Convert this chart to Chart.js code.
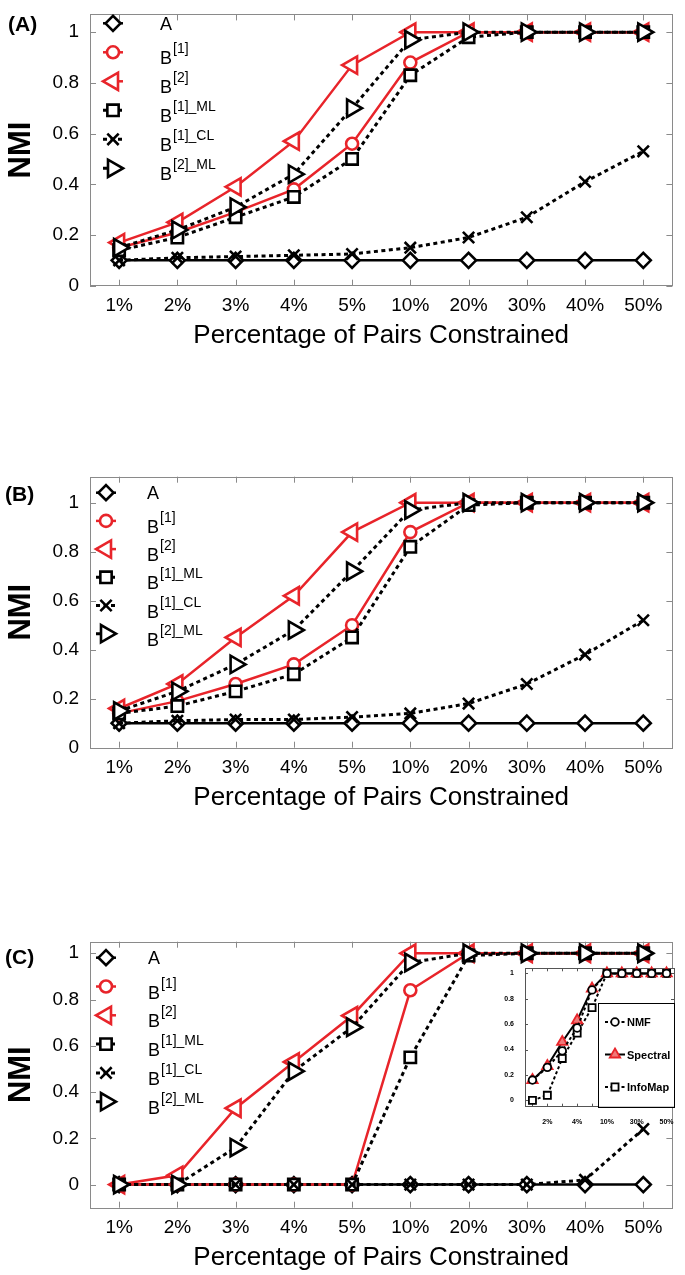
<!DOCTYPE html>
<html>
<head>
<meta charset="utf-8">
<script src="https://cdn.jsdelivr.net/npm/chart.js@4.4.1/dist/chart.umd.min.js"></script>
<style>
  html, body { margin: 0; padding: 0; background: #fff; overflow: hidden; }
  body { width: 685px; height: 1275px; position: relative; }
  canvas { position: absolute; }
</style>
</head>
<body>
<canvas id="panelA" width="685" height="352" style="left:0;top:0"></canvas>
<canvas id="panelB" width="685" height="352" style="left:0;top:462px"></canvas>
<canvas id="panelC" width="685" height="352" style="left:0;top:922px"></canvas>
<canvas id="insetC" width="190" height="175" style="left:495px;top:955px"></canvas>
<script>
// shared axes
const categories = ['1%', '2%', '3%', '4%', '5%', '10%', '20%', '30%', '40%', '50%'];
const yTicks = [0, 0.2, 0.4, 0.6, 0.8, 1];
const seriesNames = ['A', 'B[1]', 'B[2]', 'B[1]_ML', 'B[1]_CL', 'B[2]_ML'];

// panel (A)
const a_A     = [0.10, 0.10, 0.10, 0.10, 0.10, 0.10, 0.10, 0.10, 0.10, 0.10];
const a_B1    = [0.15, 0.21, 0.29, 0.38, 0.56, 0.88, 1.00, 1.00, 1.00, 1.00];
const a_B2    = [0.17, 0.25, 0.39, 0.57, 0.87, 1.00, 1.00, 1.00, 1.00, 1.00];
const a_B1ML  = [0.14, 0.19, 0.27, 0.35, 0.50, 0.83, 0.98, 1.00, 1.00, 1.00];
const a_B1CL  = [0.10, 0.11, 0.115, 0.12, 0.125, 0.15, 0.19, 0.27, 0.41, 0.53];
const a_B2ML  = [0.15, 0.22, 0.31, 0.44, 0.70, 0.97, 1.00, 1.00, 1.00, 1.00];

// panel (B)
const b_A     = [0.10, 0.10, 0.10, 0.10, 0.10, 0.10, 0.10, 0.10, 0.10, 0.10];
const b_B1    = [0.14, 0.19, 0.26, 0.34, 0.50, 0.88, 1.00, 1.00, 1.00, 1.00];
const b_B2    = [0.16, 0.26, 0.45, 0.62, 0.88, 1.00, 1.00, 1.00, 1.00, 1.00];
const b_B1ML  = [0.14, 0.17, 0.23, 0.30, 0.45, 0.82, 0.99, 1.00, 1.00, 1.00];
const b_B1CL  = [0.10, 0.11, 0.115, 0.115, 0.125, 0.14, 0.18, 0.26, 0.38, 0.52];
const b_B2ML  = [0.15, 0.23, 0.34, 0.48, 0.72, 0.97, 1.00, 1.00, 1.00, 1.00];

// panel (C)
const c_A     = [0, 0, 0, 0, 0, 0, 0, 0, 0, 0];
const c_B1    = [0, 0, 0, 0, 0, 0.84, 1.00, 1.00, 1.00, 1.00];
const c_B2    = [0, 0.04, 0.33, 0.53, 0.73, 1.00, 1.00, 1.00, 1.00, 1.00];
const c_B1ML  = [0, 0, 0, 0, 0, 0.55, 0.99, 1.00, 1.00, 1.00];
const c_B1CL  = [0, 0, 0, 0, 0, 0, 0, 0, 0.02, 0.24];
const c_B2ML  = [0, 0, 0.16, 0.49, 0.68, 0.96, 1.00, 1.00, 1.00, 1.00];

// inset of panel (C)
const insetNames    = ['NMF', 'Spectral', 'InfoMap'];
const insetNMF      = [0.16, 0.26, 0.39, 0.57, 0.87, 1.00, 1.00, 1.00, 1.00, 1.00];
const insetSpectral = [0.16, 0.27, 0.46, 0.63, 0.88, 1.00, 1.00, 1.00, 1.00, 1.00];
const insetInfoMap  = [0.00, 0.04, 0.33, 0.53, 0.73, 1.00, 1.00, 1.00, 1.00, 1.00];

const RED = 'rgb(232,36,42)';
const FONT = "'Liberation Sans', Arial, Helvetica, sans-serif";
const DOTS = [4, 3.5];

const seriesStyle = [
  { color: '#000', dash: [],   shape: 'rectRot',  r: 7.5, rot: 0 },
  { color: RED,    dash: [],   shape: 'circle',   r: 6,   rot: 0 },
  { color: RED,    dash: [],   shape: 'triangle', r: 10,  rot: -90 },
  { color: '#000', dash: DOTS, shape: 'rect',     r: 8,   rot: 0 },
  { color: '#000', dash: DOTS, shape: 'crossRot', r: 8,   rot: 0 },
  { color: '#000', dash: DOTS, shape: 'triangle', r: 10,  rot: 90 }
];

function makeSets(values) {
  return values.map((vals, i) => {
    const s = seriesStyle[i];
    return {
      label: seriesNames[i],
      data: vals,
      borderColor: s.color,
      borderWidth: s.dash.length ? 3 : 2.5,
      borderDash: s.dash,
      pointStyle: s.shape,
      pointRotation: s.rot,
      pointRadius: s.r,
      pointHoverRadius: s.r,
      pointBorderColor: s.color,
      pointBackgroundColor: '#fff',
      pointBorderWidth: 2.6,
      tension: 0,
      clip: false,
      order: values.length - 1 - i
    };
  });
}

// matlab style box with inward ticks
const axesBox = {
  id: 'axesBox',
  beforeDraw(chart, args, o) {
    if (!o.fill) return;
    const a = chart.chartArea;
    chart.ctx.save();
    chart.ctx.fillStyle = '#fff';
    chart.ctx.fillRect(a.left, a.top, a.width, a.height);
    chart.ctx.restore();
  },
  beforeDatasetsDraw(chart, args, o) {
    const { ctx, chartArea: a, scales: { x, y } } = chart;
    ctx.save();
    ctx.strokeStyle = o.color;
    ctx.lineWidth = 1;
    ctx.beginPath();
    for (let i = 0; i < categories.length; i++) {
      const px = Math.round(x.getPixelForValue(i)) + 0.5;
      ctx.moveTo(px, a.bottom); ctx.lineTo(px, a.bottom - o.len);
      ctx.moveTo(px, a.top); ctx.lineTo(px, a.top + o.len);
    }
    yTicks.forEach(v => {
      const py = Math.round(y.getPixelForValue(v)) + 0.5;
      ctx.moveTo(a.left, py); ctx.lineTo(a.left + o.len, py);
      ctx.moveTo(a.right, py); ctx.lineTo(a.right - o.len, py);
    });
    ctx.stroke();
    ctx.strokeRect(Math.round(a.left) + 0.5, Math.round(a.top) + 0.5, Math.round(a.width), Math.round(a.height));
    ctx.restore();
  }
};

function legendMark(ctx, ds, x, y, half) {
  ctx.strokeStyle = ds.borderColor;
  ctx.lineWidth = ds.borderWidth;
  ctx.setLineDash(ds.borderDash || []);
  ctx.beginPath();
  ctx.moveTo(x - half, y);
  ctx.lineTo(x + half, y);
  ctx.stroke();
  ctx.setLineDash([]);
  ctx.fillStyle = ds.pointBackgroundColor;
  ctx.strokeStyle = ds.pointBorderColor;
  ctx.lineWidth = ds.pointBorderWidth;
  Chart.helpers.drawPoint(ctx, {
    pointStyle: ds.pointStyle, rotation: ds.pointRotation || 0,
    radius: ds.pointRadius, borderWidth: ds.pointBorderWidth
  }, x, y);
}

// legend with superscripts, B[1]_ML -> B + raised [1]_ML
const seriesLegend = {
  id: 'seriesLegend',
  afterDraw(chart, args, o) {
    const ctx = chart.ctx;
    chart.data.datasets.forEach((ds, i) => {
      const y = o.y0 + i * o.gap;
      ctx.save();
      legendMark(ctx, ds, o.x, y, 10);
      const base = ds.label.charAt(0);
      const sup = ds.label.slice(1);
      ctx.fillStyle = '#000';
      ctx.textBaseline = 'alphabetic';
      ctx.textAlign = 'left';
      ctx.font = '18px ' + FONT;
      const by = y + (sup ? 12 : 6.5);
      ctx.fillText(base, o.tx, by);
      if (sup) {
        const w = ctx.measureText(base).width;
        ctx.font = '14px ' + FONT;
        ctx.fillText(sup, o.tx + w + 1, by - 11);
      }
      ctx.restore();
    });
  }
};

const panelTag = {
  id: 'panelTag',
  afterDraw(chart, args, o) {
    const ctx = chart.ctx;
    ctx.save();
    ctx.fillStyle = '#000';
    ctx.font = 'bold 21px ' + FONT;
    ctx.textBaseline = 'middle';
    ctx.textAlign = 'left';
    ctx.fillText(o.text, o.x, o.y);
    ctx.restore();
  }
};

const insetLegend = {
  id: 'insetLegend',
  afterDraw(chart, args, o) {
    const { ctx, chartArea: a } = chart;
    const left = a.right - o.w, top = a.bottom - o.h;
    ctx.save();
    ctx.fillStyle = '#fff';
    ctx.fillRect(left, top, o.w, o.h);
    ctx.strokeStyle = '#000';
    ctx.lineWidth = 1;
    ctx.strokeRect(Math.round(left) + 0.5, Math.round(top) + 0.5, Math.round(o.w), Math.round(o.h));
    insetNames.forEach((name, i) => {
      const ds = chart.data.datasets.find(d => d.label === name);
      const y = top + o.y0 + i * o.gap;
      legendMark(ctx, ds, left + 17, y, 10);
      ctx.fillStyle = '#000';
      ctx.font = 'bold 11px ' + FONT;
      ctx.textBaseline = 'middle';
      ctx.textAlign = 'left';
      ctx.fillText(name, left + 29, y + 1);
    });
    ctx.restore();
  }
};

function panel(id, values, yMin, yMax, padTop, tag, legend) {
  return new Chart(document.getElementById(id), {
    type: 'line',
    data: { labels: categories, datasets: makeSets(values) },
    options: {
      responsive: false,
      animation: false,
      events: [],
      layout: { padding: { top: padTop, right: 7, bottom: 0, left: 0 } },
      scales: {
        x: {
          type: 'category',
          offset: true,
          grid: { display: false },
          border: { display: false },
          ticks: { autoSkip: false, maxRotation: 0, padding: 1, color: '#000', font: { family: FONT, size: 19 } },
          title: {
            display: true, text: 'Percentage of Pairs Constrained', color: '#000',
            font: { family: FONT, size: 26 }, padding: { top: 0, bottom: 0.5 }
          },
          afterFit: s => { s.height = 66.3; }
        },
        y: {
          min: yMin,
          max: yMax,
          grid: { display: false },
          border: { display: false },
          afterBuildTicks: s => { s.ticks = yTicks.map(v => ({ value: v })); },
          ticks: {
            padding: 3, color: '#000', font: { family: FONT, size: 19 },
            callback: v => String(Math.round(v * 10) / 10)
          },
          title: {
            display: true, text: 'NMI', color: '#000',
            font: { family: FONT, size: 31, weight: 'bold' }, padding: { top: 3, bottom: 0 }
          },
          afterFit: s => { s.width = 90; }
        }
      },
      plugins: {
        legend: { display: false },
        tooltip: { enabled: false },
        axesBox: { color: '#8a8a8a', len: 6 },
        seriesLegend: legend,
        panelTag: tag
      }
    },
    plugins: [axesBox, seriesLegend, panelTag]
  });
}

panel('panelA', [a_A, a_B1, a_B2, a_B1ML, a_B1CL, a_B2ML], 0, 1.07, 5,
  { text: '(A)', x: 8, y: 25 }, { x: 113, tx: 160, y0: 23.3, gap: 29 });
panel('panelB', [b_A, b_B1, b_B2, b_B1ML, b_B1CL, b_B2ML], 0, 1.106, 14.7,
  { text: '(B)', x: 5, y: 33 }, { x: 106, tx: 147, y0: 30.7, gap: 28.2 });
panel('panelC', [c_A, c_B1, c_B2, c_B1ML, c_B1CL, c_B2ML], -0.1, 1.05, 19.7,
  { text: '(C)', x: 5, y: 36 }, { x: 106, tx: 148, y0: 35.7, gap: 28.8 });

// inset
new Chart(document.getElementById('insetC'), {
  type: 'line',
  data: {
    labels: categories,
    datasets: [
      { label: 'NMF', data: insetNMF, borderColor: '#000', borderWidth: 2, borderDash: [3, 2.5],
        pointStyle: 'circle', pointRadius: 3.8, pointBorderColor: '#000', pointBackgroundColor: '#fff',
        pointBorderWidth: 1.8, clip: false, order: 0 },
      { label: 'Spectral', data: insetSpectral, borderColor: '#000', borderWidth: 2, borderDash: [],
        pointStyle: 'triangle', pointRadius: 6, pointBorderColor: RED, pointBackgroundColor: 'rgb(240,120,120)',
        pointBorderWidth: 1.8, clip: false, order: 1 },
      { label: 'InfoMap', data: insetInfoMap, borderColor: '#000', borderWidth: 2, borderDash: [3, 2.5],
        pointStyle: 'rect', pointRadius: 5, pointBorderColor: '#000', pointBackgroundColor: '#fff',
        pointBorderWidth: 1.8, clip: false, order: 2 }
    ]
  },
  options: {
    responsive: false,
    animation: false,
    events: [],
    layout: { padding: { top: 13.3, right: 11, bottom: 0, left: 0 } },
    scales: {
      x: {
        type: 'category',
        offset: true,
        grid: { display: false },
        border: { display: false },
        ticks: {
          autoSkip: false, maxRotation: 0, padding: 3, color: '#000',
          font: { family: FONT, size: 7, weight: 'bold' },
          callback: (v, i) => (i % 2 === 1 ? categories[i] : '')
        },
        afterFit: s => { s.height = 23.3; }
      },
      y: {
        min: -0.05,
        max: 1.04,
        grid: { display: false },
        border: { display: false },
        afterBuildTicks: s => { s.ticks = yTicks.map(v => ({ value: v })); },
        ticks: {
          padding: 3, color: '#000', font: { family: FONT, size: 7, weight: 'bold' },
          callback: v => String(Math.round(v * 10) / 10)
        },
        afterFit: s => { s.width = 30; }
      }
    },
    plugins: {
      legend: { display: false },
      tooltip: { enabled: false },
      axesBox: { color: '#555', len: 3, fill: true },
      insetLegend: { w: 76, h: 104, y0: 19.3, gap: 32.5 }
    }
  },
  plugins: [axesBox, insetLegend]
});
</script>
</body>
</html>
